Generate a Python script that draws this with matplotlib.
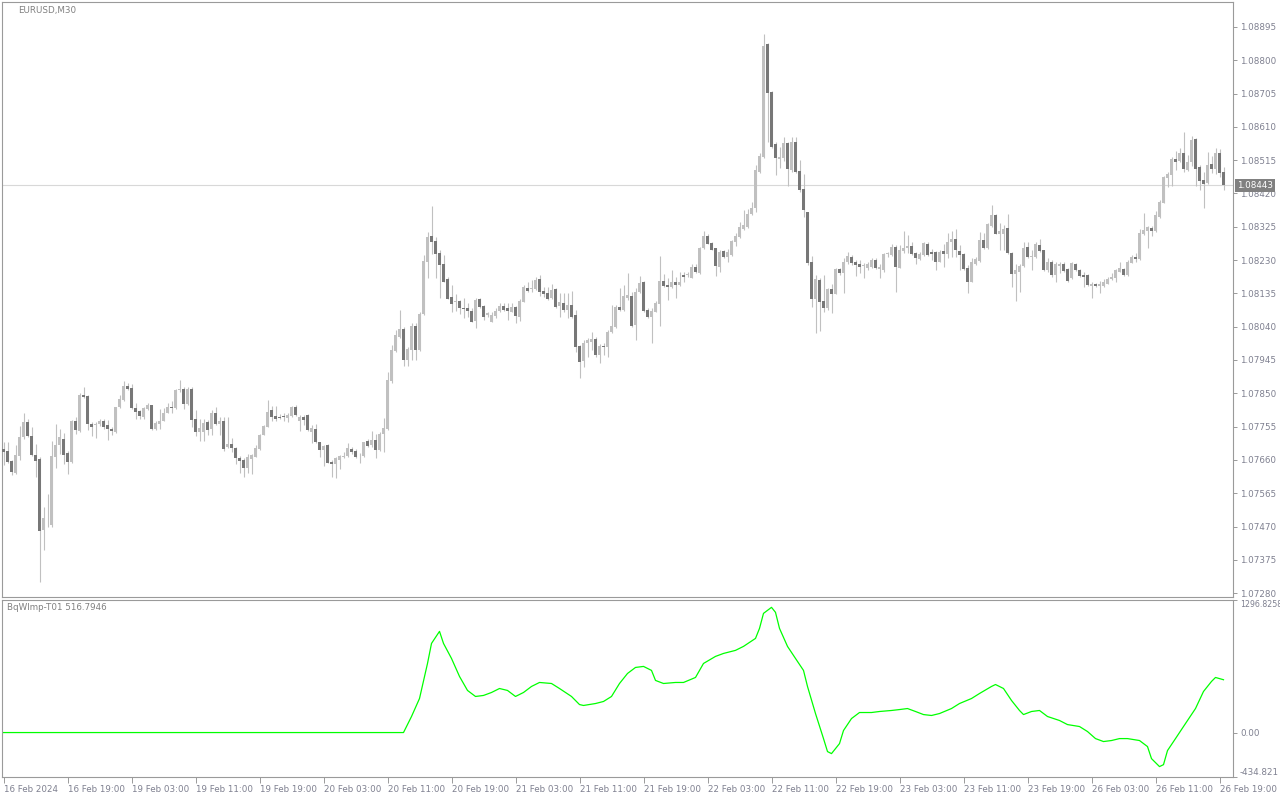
import numpy as np
import matplotlib
matplotlib.use("Agg")
import matplotlib.pyplot as plt
import matplotlib.transforms as mtransforms

# EURUSD M30 candles, 16 Feb 2024 11:00 .. 26 Feb 2024 19:30
opens = [
    1.07691, 1.07685, 1.07657, 1.07623, 1.07671, 1.07724, 1.07768, 1.07728, 1.07674, 1.07663,
    1.07460, 1.07495, 1.07475, 1.07669, 1.07703, 1.07721, 1.07679, 1.07655, 1.07771, 1.07743,
    1.07845, 1.07842, 1.07763, 1.07759, 1.07761, 1.07772, 1.07760, 1.07748, 1.07740, 1.07810,
    1.07831, 1.07871, 1.07865, 1.07808, 1.07799, 1.07783, 1.07806, 1.07817, 1.07749, 1.07763,
    1.07772, 1.07794, 1.07810, 1.07808, 1.07860, 1.07862, 1.07820, 1.07862, 1.07778, 1.07740,
    1.07740, 1.07767, 1.07748, 1.07795, 1.07763, 1.07771, 1.07697, 1.07705, 1.07694, 1.07665,
    1.07660, 1.07637, 1.07663, 1.07668, 1.07691, 1.07731, 1.07754, 1.07802, 1.07785, 1.07780,
    1.07783, 1.07780, 1.07785, 1.07811, 1.07771, 1.07783, 1.07788, 1.07740, 1.07748, 1.07711,
    1.07688, 1.07703, 1.07654, 1.07649, 1.07660, 1.07669, 1.07671, 1.07691, 1.07685, 1.07674,
    1.07671, 1.07714, 1.07703, 1.07717, 1.07688, 1.07734, 1.07748, 1.07885, 1.07971, 1.08010,
    1.08033, 1.07945, 1.07973, 1.08042, 1.07973, 1.08076, 1.08224, 1.08299, 1.08284, 1.08250,
    1.08219, 1.08176, 1.08125, 1.08110, 1.08113, 1.08093, 1.08093, 1.08085, 1.08056, 1.08119,
    1.08099, 1.08073, 1.08053, 1.08071, 1.08085, 1.08099, 1.08093, 1.08082, 1.08096, 1.08068,
    1.08111, 1.08150, 1.08147, 1.08147, 1.08176, 1.08142, 1.08136, 1.08122, 1.08147, 1.08099,
    1.08108, 1.08088, 1.08102, 1.08073, 1.07985, 1.07942, 1.07993, 1.07996, 1.08005, 1.07959,
    1.07985, 1.07982, 1.08025, 1.08039, 1.08096, 1.08088, 1.08122, 1.08128, 1.08045, 1.08139,
    1.08167, 1.08088, 1.08068, 1.08082, 1.08105, 1.08170, 1.08159, 1.08153, 1.08167, 1.08159,
    1.08187, 1.08187, 1.08179, 1.08210, 1.08193, 1.08264, 1.08299, 1.08279, 1.08264, 1.08210,
    1.08256, 1.08239, 1.08244, 1.08282, 1.08296, 1.08319, 1.08324, 1.08361, 1.08379, 1.08481,
    1.08524, 1.08846, 1.08709, 1.08561, 1.08518, 1.08521, 1.08564, 1.08487, 1.08567, 1.08484,
    1.08433, 1.08367, 1.08224, 1.08119, 1.08173, 1.08113, 1.08093, 1.08147, 1.08133, 1.08205,
    1.08193, 1.08224, 1.08239, 1.08224, 1.08219, 1.08213, 1.08207, 1.08210, 1.08230, 1.08205,
    1.08202, 1.08247, 1.08244, 1.08267, 1.08207, 1.08256, 1.08264, 1.08270, 1.08250, 1.08233,
    1.08244, 1.08276, 1.08253, 1.08253, 1.08224, 1.08256, 1.08247, 1.08282, 1.08290, 1.08256,
    1.08247, 1.08207, 1.08167, 1.08219, 1.08227, 1.08287, 1.08264, 1.08327, 1.08359, 1.08304,
    1.08304, 1.08321, 1.08250, 1.08190, 1.08196, 1.08213, 1.08267, 1.08239, 1.08239, 1.08273,
    1.08259, 1.08202, 1.08224, 1.08187, 1.08213, 1.08219, 1.08205, 1.08179, 1.08219, 1.08202,
    1.08187, 1.08187, 1.08156, 1.08162, 1.08156, 1.08156, 1.08162, 1.08176, 1.08179, 1.08196,
    1.08205, 1.08187, 1.08222, 1.08239, 1.08233, 1.08304, 1.08313, 1.08321, 1.08313, 1.08353,
    1.08393, 1.08464, 1.08473, 1.08518, 1.08513, 1.08535, 1.08487, 1.08510, 1.08575, 1.08496,
    1.08458, 1.08450, 1.08504, 1.08490, 1.08535, 1.08481,
]
highs = [
    1.07712, 1.07712, 1.07660, 1.07703, 1.07758, 1.07794, 1.07778, 1.07755, 1.07705, 1.07667,
    1.07527, 1.07563, 1.07714, 1.07763, 1.07748, 1.07736, 1.07686, 1.07774, 1.07783, 1.07852,
    1.07869, 1.07846, 1.07769, 1.07767, 1.07776, 1.07776, 1.07774, 1.07755, 1.07812, 1.07845,
    1.07885, 1.07880, 1.07877, 1.07822, 1.07802, 1.07812, 1.07822, 1.07818, 1.07772, 1.07804,
    1.07807, 1.07822, 1.07829, 1.07861, 1.07888, 1.07867, 1.07867, 1.07867, 1.07802, 1.07777,
    1.07777, 1.07774, 1.07802, 1.07811, 1.07783, 1.07783, 1.07783, 1.07722, 1.07697, 1.07671,
    1.07665, 1.07677, 1.07677, 1.07703, 1.07734, 1.07760, 1.07831, 1.07814, 1.07814, 1.07791,
    1.07794, 1.07794, 1.07814, 1.07817, 1.07788, 1.07788, 1.07791, 1.07760, 1.07763, 1.07711,
    1.07703, 1.07705, 1.07660, 1.07668, 1.07674, 1.07683, 1.07708, 1.07697, 1.07691, 1.07680,
    1.07712, 1.07720, 1.07742, 1.07734, 1.07740, 1.07780, 1.07911, 1.07988, 1.08030, 1.08088,
    1.08039, 1.07982, 1.08050, 1.08050, 1.08082, 1.08244, 1.08310, 1.08384, 1.08296, 1.08259,
    1.08244, 1.08182, 1.08159, 1.08133, 1.08116, 1.08122, 1.08108, 1.08093, 1.08122, 1.08122,
    1.08102, 1.08082, 1.08082, 1.08093, 1.08108, 1.08108, 1.08108, 1.08108, 1.08099, 1.08119,
    1.08159, 1.08167, 1.08173, 1.08182, 1.08187, 1.08153, 1.08153, 1.08162, 1.08150, 1.08136,
    1.08136, 1.08136, 1.08142, 1.08088, 1.07988, 1.08002, 1.08008, 1.08025, 1.08010, 1.07991,
    1.07993, 1.08030, 1.08102, 1.08102, 1.08150, 1.08159, 1.08193, 1.08139, 1.08150, 1.08185,
    1.08170, 1.08093, 1.08093, 1.08113, 1.08242, 1.08190, 1.08179, 1.08202, 1.08182, 1.08196,
    1.08196, 1.08196, 1.08219, 1.08219, 1.08267, 1.08313, 1.08304, 1.08282, 1.08265, 1.08259,
    1.08259, 1.08262, 1.08287, 1.08307, 1.08339, 1.08373, 1.08376, 1.08396, 1.08501, 1.08535,
    1.08875, 1.08848, 1.08712, 1.08567, 1.08553, 1.08581, 1.08567, 1.08581, 1.08581, 1.08516,
    1.08476, 1.08368, 1.08242, 1.08187, 1.08179, 1.08187, 1.08150, 1.08162, 1.08207, 1.08207,
    1.08236, 1.08253, 1.08244, 1.08230, 1.08230, 1.08222, 1.08224, 1.08236, 1.08236, 1.08219,
    1.08250, 1.08253, 1.08276, 1.08273, 1.08273, 1.08313, 1.08302, 1.08282, 1.08253, 1.08253,
    1.08282, 1.08282, 1.08262, 1.08256, 1.08259, 1.08276, 1.08307, 1.08313, 1.08319, 1.08273,
    1.08250, 1.08216, 1.08236, 1.08239, 1.08310, 1.08307, 1.08336, 1.08387, 1.08361, 1.08336,
    1.08330, 1.08361, 1.08253, 1.08219, 1.08219, 1.08282, 1.08282, 1.08259, 1.08282, 1.08290,
    1.08260, 1.08236, 1.08230, 1.08224, 1.08224, 1.08224, 1.08207, 1.08224, 1.08222, 1.08205,
    1.08196, 1.08190, 1.08167, 1.08165, 1.08170, 1.08176, 1.08182, 1.08193, 1.08205, 1.08224,
    1.08207, 1.08230, 1.08244, 1.08250, 1.08319, 1.08364, 1.08327, 1.08327, 1.08370, 1.08401,
    1.08470, 1.08481, 1.08524, 1.08541, 1.08550, 1.08595, 1.08530, 1.08584, 1.08578, 1.08501,
    1.08481, 1.08538, 1.08527, 1.08550, 1.08547, 1.08496,
]
lows = [
    1.07646, 1.07651, 1.07617, 1.07620, 1.07660, 1.07719, 1.07724, 1.07671, 1.07612, 1.07312,
    1.07403, 1.07470, 1.07470, 1.07636, 1.07676, 1.07649, 1.07620, 1.07651, 1.07733, 1.07740,
    1.07836, 1.07745, 1.07728, 1.07723, 1.07757, 1.07747, 1.07717, 1.07731, 1.07736, 1.07807,
    1.07829, 1.07859, 1.07806, 1.07776, 1.07778, 1.07776, 1.07802, 1.07745, 1.07745, 1.07747,
    1.07770, 1.07793, 1.07793, 1.07805, 1.07854, 1.07805, 1.07817, 1.07755, 1.07728, 1.07714,
    1.07714, 1.07731, 1.07731, 1.07760, 1.07731, 1.07685, 1.07694, 1.07683, 1.07649, 1.07623,
    1.07611, 1.07623, 1.07620, 1.07668, 1.07688, 1.07731, 1.07754, 1.07771, 1.07771, 1.07777,
    1.07771, 1.07768, 1.07783, 1.07785, 1.07742, 1.07760, 1.07742, 1.07708, 1.07708, 1.07668,
    1.07643, 1.07651, 1.07611, 1.07608, 1.07634, 1.07665, 1.07668, 1.07677, 1.07665, 1.07651,
    1.07668, 1.07697, 1.07697, 1.07665, 1.07685, 1.07683, 1.07745, 1.07879, 1.07968, 1.08008,
    1.07928, 1.07928, 1.07945, 1.07945, 1.07971, 1.08073, 1.08179, 1.08247, 1.08179, 1.08122,
    1.08167, 1.08119, 1.08082, 1.08085, 1.08076, 1.08065, 1.08068, 1.08053, 1.08036, 1.08093,
    1.08059, 1.08068, 1.08053, 1.08065, 1.08082, 1.08085, 1.08059, 1.08082, 1.08050, 1.08056,
    1.08111, 1.08139, 1.08139, 1.08145, 1.08128, 1.08125, 1.08116, 1.08119, 1.08093, 1.08068,
    1.08082, 1.08065, 1.08065, 1.07968, 1.07894, 1.07925, 1.07954, 1.07973, 1.07954, 1.07936,
    1.07959, 1.07954, 1.08022, 1.08036, 1.08085, 1.08085, 1.08116, 1.08039, 1.08002, 1.08136,
    1.08082, 1.08065, 1.07993, 1.08082, 1.08042, 1.08153, 1.08116, 1.08150, 1.08122, 1.08156,
    1.08167, 1.08182, 1.08179, 1.08193, 1.08190, 1.08262, 1.08276, 1.08259, 1.08185, 1.08196,
    1.08236, 1.08224, 1.08242, 1.08270, 1.08293, 1.08316, 1.08321, 1.08359, 1.08367, 1.08478,
    1.08521, 1.08567, 1.08550, 1.08473, 1.08493, 1.08513, 1.08441, 1.08481, 1.08478, 1.08424,
    1.08353, 1.08216, 1.08096, 1.08022, 1.08028, 1.08082, 1.08088, 1.08079, 1.08133, 1.08187,
    1.08136, 1.08219, 1.08216, 1.08185, 1.08193, 1.08179, 1.08202, 1.08207, 1.08205, 1.08179,
    1.08196, 1.08239, 1.08242, 1.08139, 1.08207, 1.08250, 1.08250, 1.08244, 1.08219, 1.08230,
    1.08242, 1.08242, 1.08230, 1.08202, 1.08224, 1.08210, 1.08236, 1.08239, 1.08239, 1.08202,
    1.08202, 1.08136, 1.08167, 1.08216, 1.08224, 1.08262, 1.08262, 1.08324, 1.08304, 1.08259,
    1.08259, 1.08247, 1.08153, 1.08113, 1.08139, 1.08210, 1.08236, 1.08202, 1.08236, 1.08253,
    1.08199, 1.08196, 1.08182, 1.08167, 1.08193, 1.08196, 1.08167, 1.08176, 1.08199, 1.08182,
    1.08153, 1.08156, 1.08122, 1.08153, 1.08136, 1.08153, 1.08162, 1.08173, 1.08167, 1.08196,
    1.08185, 1.08185, 1.08222, 1.08224, 1.08230, 1.08302, 1.08264, 1.08299, 1.08310, 1.08350,
    1.08393, 1.08438, 1.08441, 1.08487, 1.08510, 1.08481, 1.08484, 1.08498, 1.08441, 1.08430,
    1.08379, 1.08447, 1.08478, 1.08476, 1.08467, 1.08430,
]
closes = [
    1.07683, 1.07655, 1.07626, 1.07674, 1.07724, 1.07768, 1.07728, 1.07674, 1.07658, 1.07458,
    1.07495, 1.07493, 1.07671, 1.07703, 1.07726, 1.07674, 1.07655, 1.07771, 1.07745, 1.07845,
    1.07840, 1.07761, 1.07755, 1.07760, 1.07772, 1.07755, 1.07747, 1.07742, 1.07810, 1.07834,
    1.07871, 1.07861, 1.07808, 1.07796, 1.07785, 1.07808, 1.07817, 1.07749, 1.07765, 1.07772,
    1.07795, 1.07810, 1.07808, 1.07859, 1.07861, 1.07819, 1.07862, 1.07774, 1.07740, 1.07751,
    1.07765, 1.07745, 1.07793, 1.07763, 1.07771, 1.07691, 1.07705, 1.07694, 1.07665, 1.07657,
    1.07637, 1.07668, 1.07674, 1.07694, 1.07731, 1.07757, 1.07796, 1.07783, 1.07777, 1.07779,
    1.07782, 1.07788, 1.07811, 1.07788, 1.07783, 1.07774, 1.07745, 1.07751, 1.07711, 1.07688,
    1.07700, 1.07651, 1.07649, 1.07665, 1.07671, 1.07671, 1.07694, 1.07683, 1.07668, 1.07673,
    1.07711, 1.07700, 1.07717, 1.07688, 1.07734, 1.07751, 1.07888, 1.07973, 1.08016, 1.08033,
    1.07945, 1.07976, 1.08042, 1.07973, 1.08076, 1.08227, 1.08296, 1.08282, 1.08247, 1.08216,
    1.08167, 1.08119, 1.08105, 1.08111, 1.08093, 1.08090, 1.08085, 1.08053, 1.08116, 1.08096,
    1.08068, 1.08079, 1.08073, 1.08085, 1.08099, 1.08088, 1.08085, 1.08096, 1.08071, 1.08113,
    1.08153, 1.08142, 1.08150, 1.08173, 1.08139, 1.08133, 1.08119, 1.08145, 1.08096, 1.08110,
    1.08088, 1.08102, 1.08068, 1.07982, 1.07939, 1.07993, 1.08002, 1.08005, 1.07959, 1.07985,
    1.07983, 1.08025, 1.08042, 1.08096, 1.08088, 1.08128, 1.08130, 1.08042, 1.08139, 1.08165,
    1.08085, 1.08068, 1.08085, 1.08108, 1.08170, 1.08156, 1.08153, 1.08167, 1.08159, 1.08167,
    1.08182, 1.08188, 1.08210, 1.08196, 1.08264, 1.08299, 1.08276, 1.08259, 1.08213, 1.08253,
    1.08239, 1.08253, 1.08284, 1.08299, 1.08324, 1.08330, 1.08361, 1.08379, 1.08487, 1.08527,
    1.08841, 1.08707, 1.08553, 1.08521, 1.08524, 1.08564, 1.08490, 1.08567, 1.08481, 1.08430,
    1.08373, 1.08222, 1.08119, 1.08176, 1.08111, 1.08093, 1.08147, 1.08133, 1.08205, 1.08193,
    1.08224, 1.08242, 1.08222, 1.08216, 1.08210, 1.08214, 1.08219, 1.08230, 1.08207, 1.08210,
    1.08247, 1.08248, 1.08267, 1.08210, 1.08259, 1.08264, 1.08270, 1.08247, 1.08236, 1.08247,
    1.08279, 1.08244, 1.08247, 1.08224, 1.08253, 1.08247, 1.08282, 1.08290, 1.08259, 1.08244,
    1.08205, 1.08167, 1.08224, 1.08233, 1.08287, 1.08264, 1.08333, 1.08359, 1.08304, 1.08313,
    1.08319, 1.08250, 1.08190, 1.08202, 1.08213, 1.08264, 1.08239, 1.08242, 1.08276, 1.08256,
    1.08202, 1.08224, 1.08187, 1.08219, 1.08219, 1.08199, 1.08170, 1.08222, 1.08202, 1.08185,
    1.08182, 1.08159, 1.08162, 1.08156, 1.08162, 1.08167, 1.08176, 1.08182, 1.08202, 1.08207,
    1.08187, 1.08224, 1.08239, 1.08233, 1.08307, 1.08316, 1.08324, 1.08313, 1.08359, 1.08396,
    1.08467, 1.08476, 1.08518, 1.08510, 1.08535, 1.08490, 1.08510, 1.08573, 1.08490, 1.08456,
    1.08447, 1.08501, 1.08490, 1.08535, 1.08478, 1.08443,
]

# indicator BqWImp-T01, sampled at bar index
ind_bar = [0, 100, 102, 104, 106, 107, 109, 110, 112, 114,
           116, 118, 120, 122, 124, 126, 128, 130, 132, 134,
           137, 139, 142, 144, 145, 148, 150, 152, 154, 156,
           158, 160, 162, 163, 165, 168, 170, 173, 175, 178,
           180, 183, 185, 188, 189, 190, 192, 193, 194, 196,
           198, 200, 201, 203, 205, 206, 207, 209, 210, 212,
           214, 217, 219, 222, 224, 226, 228, 230, 232, 234,
           237, 239, 242, 244, 247, 248, 250, 252, 254, 255,
           257, 259, 261, 264, 266, 269, 271, 273, 275, 277,
           279, 281, 284, 286, 287, 289, 290, 291, 293, 295,
           298, 300, 302, 303, 305]
ind_val = [0, 0, 157, 333, 676, 872, 990, 872, 725, 549,
           412, 353, 363, 392, 431, 412, 353, 392, 451, 490,
           480, 431, 353, 274, 265, 284, 304, 353, 480, 578,
           637, 647, 608, 510, 480, 490, 490, 539, 676, 745,
           774, 804, 843, 921, 1019, 1166, 1225, 1176, 1019, 843,
           725, 608, 451, 186, -59, -186, -206, -108, 20, 137,
           196, 196, 206, 216, 225, 235, 206, 176, 167, 186,
           235, 284, 333, 382, 451, 470, 431, 314, 216, 176,
           206, 216, 157, 118, 78, 59, 10, -59, -88, -78,
           -59, -59, -78, -137, -255, -333, -314, -176, -59, 59,
           235, 402, 500, 539, 516.79]

price_ticks = [1.07280, 1.07375, 1.07470, 1.07565, 1.07660, 1.07755, 1.07850, 1.07945, 1.08040,
               1.08135, 1.08230, 1.08325, 1.08420, 1.08515, 1.08610, 1.08705, 1.08800, 1.08895]
time_labels = ['16 Feb 2024', '16 Feb 19:00', '19 Feb 03:00', '19 Feb 11:00', '19 Feb 19:00',
               '20 Feb 03:00', '20 Feb 11:00', '20 Feb 19:00', '21 Feb 03:00', '21 Feb 11:00',
               '21 Feb 19:00', '22 Feb 03:00', '22 Feb 11:00', '22 Feb 19:00', '23 Feb 03:00',
               '23 Feb 11:00', '23 Feb 19:00', '26 Feb 03:00', '26 Feb 11:00', '26 Feb 19:00']
time_bars = [0, 16, 32, 48, 64, 80, 96, 112, 128, 144, 160, 176, 192, 208, 224, 240, 256, 272, 288, 304]
last_price = 1.08443
ind_min, ind_max = -434.821, 1296.8258

BULL = '#c0c0c0'
BEAR = '#777777'
TXT = '#7f8090'
FRAME = '#9a9a9a'
FS = 6.3

o = np.array(opens)
h = np.array(highs)
l = np.array(lows)
c = np.array(closes)
x = np.arange(len(o))

W, H = 1280, 800
fig = plt.figure(figsize=(W / 100, H / 100), dpi=100)
fig.patch.set_facecolor('white')
ax = fig.add_axes([2 / W, 1 - 597 / H, 1231 / W, 595 / H])
axi = fig.add_axes([2 / W, 1 - 777 / H, 1231 / W, 177 / H])

# candles
ax.vlines(x, l, h, color=BULL, linewidth=0.8, zorder=2)
bottom = np.minimum(o, c)
height = np.maximum(np.abs(c - o), 0.00002)
colors = np.where(c >= o, BULL, BEAR)
ax.bar(x, height, width=0.72, bottom=bottom, color=colors, linewidth=0, zorder=3)

ax.axhline(last_price, color='#d8d8d8', linewidth=0.8, zorder=1)

ax.set_xlim(-0.375, 307.375)
ax.set_ylim(1.07269, 1.08966)
ax.set_xticks([])
ax.yaxis.tick_right()
ax.set_yticks(price_ticks)
ax.set_yticklabels([f'{v:.5f}' for v in price_ticks])

trans = mtransforms.blended_transform_factory(ax.transAxes, ax.transData)
ax.text(1.0035, last_price, f'{last_price:.5f}', transform=trans, fontsize=FS,
        color='white', va='center', ha='left', zorder=10,
        bbox=dict(boxstyle='square,pad=0.22', fc='#808080', ec='none'))

# indicator panel
axi.plot(ind_bar, ind_val, color='#00ff00', linewidth=0.9)
axi.set_xlim(-0.375, 307.375)
axi.set_ylim(ind_min, ind_max)
axi.yaxis.tick_right()
axi.set_yticks([ind_min, 0, ind_max])
labs = axi.set_yticklabels(['-434.821', '0.00', '1296.8258'])
labs[0].set_va('bottom')
labs[2].set_va('top')
labs[2].set_fontsize(5.7)
axi.set_xticks(time_bars)
xl = axi.set_xticklabels(time_labels)
for t in xl:
    t.set_ha('left')

for a in (ax, axi):
    for s in a.spines.values():
        s.set_color(FRAME)
        s.set_linewidth(0.8)
    a.tick_params(axis='y', direction='out', length=3, width=0.7, color=FRAME,
                  labelsize=FS, labelcolor=TXT, pad=2)
labs[2].set_fontsize(5.7)
axi.tick_params(axis='x', direction='out', length=4, width=0.7, color=FRAME,
                labelsize=FS, labelcolor=TXT, pad=1.5)

fig.text(18 / W, 1 - 11 / H, 'EURUSD,M30', fontsize=FS, color='#808080', va='center', ha='left')
fig.text(7 / W, 1 - 608 / H, 'BqWImp-T01 516.7946', fontsize=FS, color='#808080', va='center', ha='left')

fig.savefig('out.png', dpi=100)
